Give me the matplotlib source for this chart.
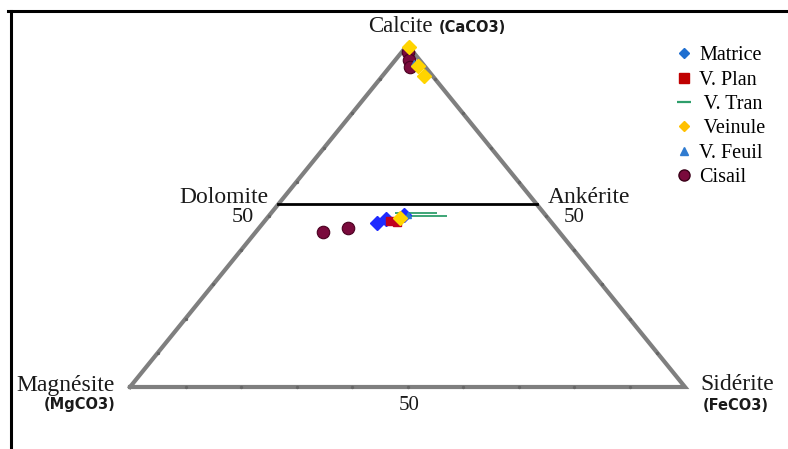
import matplotlib
matplotlib.use("Agg")
import matplotlib.pyplot as plt
from matplotlib.lines import Line2D
import numpy as np

# Carbonate compositions (mol %): CaCO3, MgCO3, FeCO3
matrice_ca = [48.0, 49.1, 50.3]
matrice_mg = [31.5, 29.3, 25.5]
matrice_fe = [20.5, 21.6, 24.2]

vplan_ca = [48.5, 48.2]
vplan_mg = [28.9, 27.8]
vplan_fe = [22.6, 24.0]

vtran_ca = [50.9, 50.0]
vtran_mg = [23.0, 21.7]
vtran_fe = [26.1, 28.3]

veinule_ca = [49.4, 99.4, 93.9, 90.9]
veinule_mg = [26.7, 0.0, 1.2, 1.6]
veinule_fe = [23.9, 0.6, 4.9, 7.5]

vfeuil_ca = [50.3, 94.7]
vfeuil_mg = [24.8, 1.5]
vfeuil_fe = [24.9, 3.8]

cisail_ca = [45.3, 46.5, 98.0, 95.6, 93.6]
cisail_mg = [42.6, 37.5, 0.9, 1.9, 2.7]
cisail_fe = [12.1, 16.0, 1.1, 2.5, 3.7]

# Dolomite - Ankérite join (CaCO3 %)
join_ca = 53.5


def tern(ca, mg, fe):
    ca = np.asarray(ca, float)
    mg = np.asarray(mg, float)
    fe = np.asarray(fe, float)
    s = ca + mg + fe
    ca, fe = ca / s, fe / s
    return fe + ca / 2.0, ca


W, H = 788, 449
fig = plt.figure(figsize=(W / 100, H / 100), dpi=100)
ax = fig.add_axes([0, 0, 1, 1])
ax.axis("off")
# triangle base spans 130..685 px, apex height 387..45 px
sx, sy = 555.0, 342.0
ax.set_xlim(-130 / sx, (W - 130) / sx)
ax.set_ylim((387 - H) / sy, 387 / sy)

# frame lines on top and left
fig.add_artist(Line2D([8 / W, 1], [1 - 11 / H, 1 - 11 / H], color="black", lw=2.2))
fig.add_artist(Line2D([11 / W, 11 / W], [0, 1 - 11 / H], color="black", lw=2.2))

# triangle
ax.plot([0, 1, 0.5, 0], [0, 0, 1, 0], color="#7f7f7f", lw=3.0,
        solid_joinstyle="miter", zorder=2)

# small tick dots along the edges
for f in np.arange(0.1, 1.0, 0.1):
    pts = [(f, 0), (f / 2, f), (1 - f / 2, f)]
    for px, py in pts:
        ax.plot(px, py, marker="o", ms=1.4, color="#666666", zorder=3)

# Dolomite - Ankérite join
jx0, jy = tern(join_ca, 100 - join_ca, 0)
jx1, _ = tern(join_ca, 0, 100 - join_ca)
ax.plot([jx0, jx1], [jy, jy], color="black", lw=2.0, zorder=3)

# data series
x, y = tern(vtran_ca, vtran_mg, vtran_fe)
ax.plot(x, y, ls="none", marker="_", ms=30, mew=1.3, color="#2e9e6b", zorder=4)
x, y = tern(matrice_ca, matrice_mg, matrice_fe)
ax.plot(x, y, ls="none", marker="D", ms=7, color="#1f2bff", zorder=5)
x, y = tern(vplan_ca, vplan_mg, vplan_fe)
ax.plot(x, y, ls="none", marker="s", ms=6, color="#c00020", zorder=5)
x, y = tern(cisail_ca, cisail_mg, cisail_fe)
ax.plot(x, y, ls="none", marker="o", ms=9, color="#7a0a3c",
        mec="#4a0020", mew=0.8, zorder=5)
x, y = tern(vfeuil_ca, vfeuil_mg, vfeuil_fe)
ax.plot(x, y, ls="none", marker="^", ms=5, color="#2f7bd0", zorder=6)
x, y = tern(veinule_ca, veinule_mg, veinule_fe)
ax.plot(x, y, ls="none", marker="D", ms=7, color="#ffd400", zorder=6)


def px2d(px, py):
    return (px - 130) / sx, (387 - py) / sy


serif = "Liberation Serif"
bold = "DejaVu Sans"
ink = "#1a1a1a"


def label(px, py, s, size, family=serif, weight="normal"):
    ax.text(*px2d(px, py), s, fontsize=size, family=family, weight=weight,
            ha="center", va="center", color=ink)


label(400, 26, "Calcite", 16.5)
label(472, 27, "(CaCO3)", 10.5, bold, "bold")
label(224, 198, "Dolomite", 17)
label(243, 217, "50", 16)
label(589, 198, "Ankérite", 17)
label(574, 217, "50", 15)
label(66, 385, "Magnésite", 17)
label(80, 404, "(MgCO3)", 10.5, bold, "bold")
label(737, 385, "Sidérite", 17)
label(736, 405, "(FeCO3)", 10.5, bold, "bold")
label(409, 406, "50", 15)

# legend
handles = [
    Line2D([], [], ls="none", marker="D", ms=5, color="#1f6fd0", label="Matrice"),
    Line2D([], [], ls="none", marker="s", ms=7, color="#c00000", label="V. Plan"),
    Line2D([], [], ls="none", marker="_", ms=10, mew=1.6, color="#2e9e6b", label=" V. Tran"),
    Line2D([], [], ls="none", marker="D", ms=5, color="#ffc000", label=" Veinule"),
    Line2D([], [], ls="none", marker="^", ms=6, color="#2f7bd0", label="V. Feuil"),
    Line2D([], [], ls="none", marker="o", ms=8, color="#7a0a3c", mec="#3a0018",
           label="Cisail"),
]
leg = fig.legend(handles=handles, loc="upper left",
                 bbox_to_anchor=(666 / W, 1 - 36 / H), frameon=False,
                 prop={"family": serif, "size": 14.5}, handlelength=0.8,
                 handletextpad=0.35, labelspacing=0.265, borderpad=0)

fig.savefig("out.png", dpi=100)
